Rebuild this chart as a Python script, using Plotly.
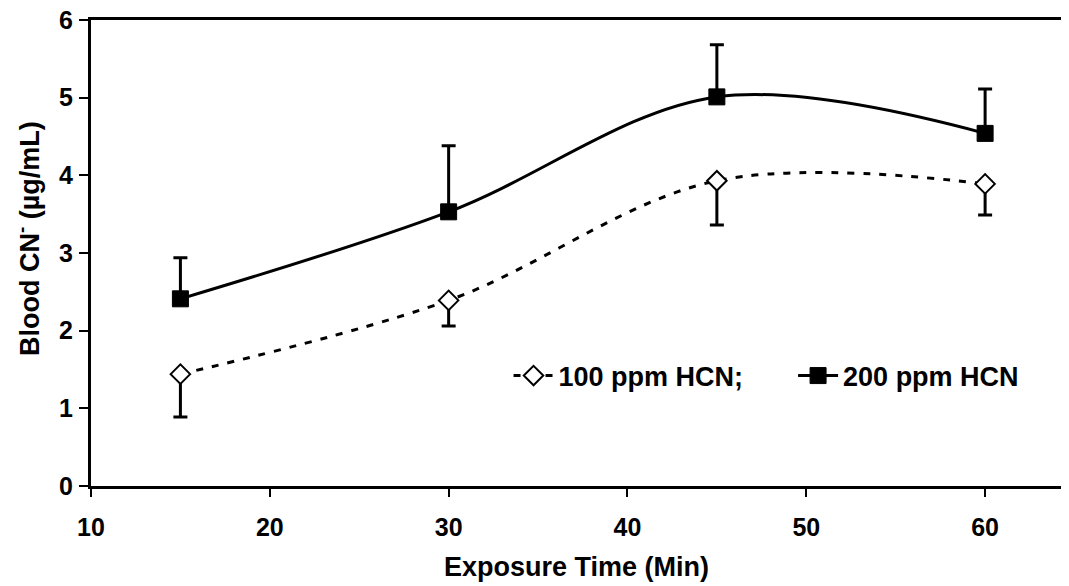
import plotly.graph_objects as go

x_min = [15, 30, 45, 60]
y_100 = [1.44, 2.39, 3.93, 3.89]
err_100_minus = [0.55, 0.33, 0.57, 0.40]
y_200 = [2.41, 3.53, 5.01, 4.54]
err_200_plus = [0.53, 0.85, 0.67, 0.57]
zeros = [0, 0, 0, 0]

x_ticks = [10, 20, 30, 40, 50, 60]
y_ticks = [0, 1, 2, 3, 4, 5, 6]

FONT = "Arial, Liberation Sans, sans-serif"
NBSP = "\u00a0"

fig = go.Figure()
fig.add_trace(go.Scatter(
    x=x_min, y=y_100, name="100 ppm HCN;" + NBSP * 6, mode="lines+markers",
    line=dict(color="black", width=3, dash="7px,9px", shape="spline", smoothing=1),
    marker=dict(symbol="diamond", size=15, color="white", line=dict(color="black", width=2)),
    error_y=dict(type="data", symmetric=False, array=zeros, arrayminus=err_100_minus,
                 color="black", thickness=3, width=7),
))
fig.add_trace(go.Scatter(
    x=x_min, y=y_200, name="200 ppm HCN", mode="lines+markers",
    line=dict(color="black", width=3, shape="spline", smoothing=1),
    marker=dict(symbol="square", size=16, color="black", line=dict(color="black", width=1)),
    error_y=dict(type="data", symmetric=False, array=err_200_plus, arrayminus=zeros,
                 color="black", thickness=3, width=7),
))

fig.update_layout(
    width=1061, height=578,
    margin=dict(l=83, r=7, t=12, b=100),
    paper_bgcolor="white", plot_bgcolor="white",
    font=dict(family=FONT, size=25, color="black", weight="bold"),
    showlegend=True,
    legend=dict(orientation="h", x=0.43, y=0.236, xanchor="left", yanchor="middle",
                bgcolor="rgba(0,0,0,0)", font=dict(family=FONT, size=27, weight="bold"),
                itemwidth=40, tracegroupgap=0),
    annotations=[dict(
        text="Blood CN<sup>-</sup> (µg/mL)", textangle=-90,
        xref="paper", yref="paper", x=0, y=0.53, xshift=-63,
        xanchor="center", yanchor="middle", showarrow=False,
        font=dict(family=FONT, size=27, weight="bold"),
    )],
)
fig.update_xaxes(
    range=[10, 64.3], tickvals=x_ticks, ticktext=[str(v) for v in x_ticks],
    showline=True, linecolor="black", linewidth=3, mirror=True,
    ticks="outside", ticklen=8, tickwidth=2, tickcolor="black",
    showgrid=False, zeroline=False, ticklabelstandoff=9, automargin=False,
    ticklabeloverflow="allow",
    tickfont=dict(family=FONT, size=25, weight="bold"),
    title=dict(text="Exposure Time (Min)", standoff=18,
               font=dict(family=FONT, size=27, weight="bold")),
)
fig.update_yaxes(
    range=[0, 6], tickvals=y_ticks, ticktext=[str(v) for v in y_ticks],
    showline=True, linecolor="black", linewidth=3, mirror=True,
    ticks="outside", ticklen=9, tickwidth=2, tickcolor="black",
    showgrid=False, zeroline=False, ticklabelstandoff=1, automargin=False,
    ticklabeloverflow="allow",
    tickfont=dict(family=FONT, size=25, weight="bold"),
)

fig.write_html("out.html")
